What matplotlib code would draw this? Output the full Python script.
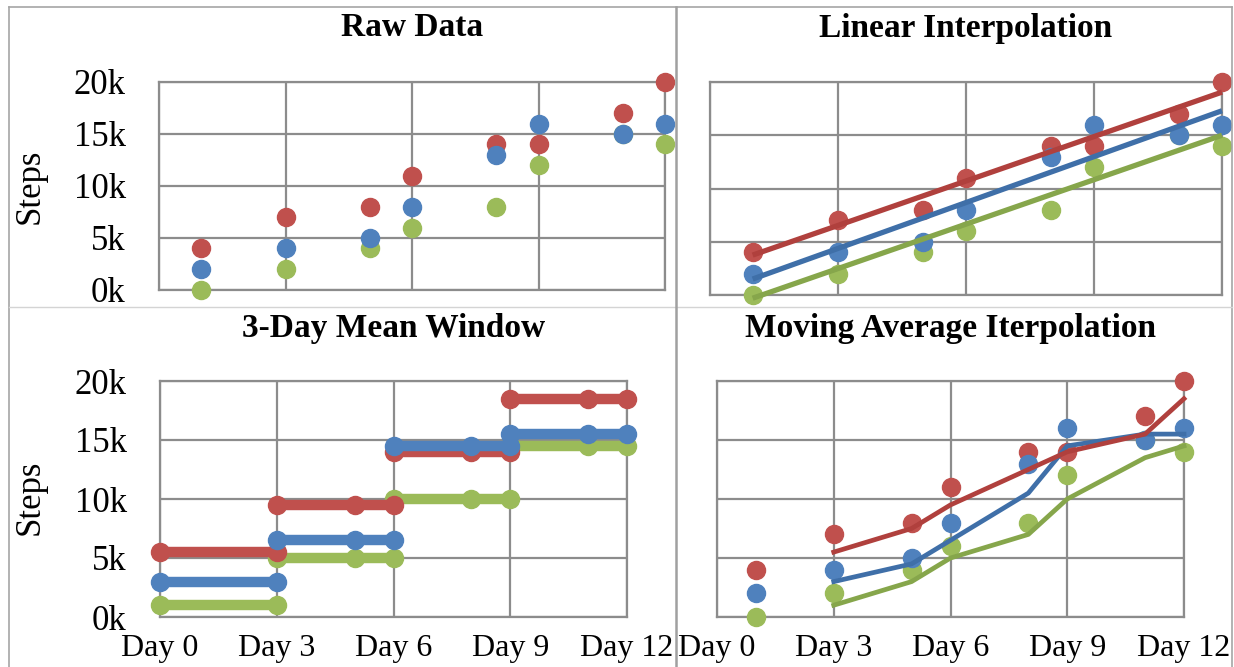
import matplotlib
matplotlib.use("Agg")
import matplotlib.pyplot as plt
from matplotlib.lines import Line2D

# ---- data -------------------------------------------------------------
days = [1, 3, 5, 6, 8, 9, 11, 12]
red_steps = [4000, 7000, 8000, 11000, 14000, 14000, 17000, 20000]
blue_steps = [2000, 4000, 5000, 8000, 13000, 16000, 15000, 16000]
green_steps = [0, 2000, 4000, 6000, 8000, 12000, 15000, 14000]

# fitted straight lines (start at day 1, end at day 12)
trend_days = [1, 12]
red_trend = [3750, 19050]
blue_trend = [1500, 17300]
green_trend = [-300, 15000]

# 3-day windows and their means
window_days = [[0, 3], [3, 5, 6], [6, 8, 9], [9, 11, 12]]
red_window = [5500, 9500, 14000, 18500]
blue_window = [3000, 6500, 14500, 15500]
green_window = [1000, 5000, 10000, 14500]

# two-point moving averages
ma_days = [3, 5, 6, 8, 9, 11, 12]
red_ma = [5500, 7500, 9500, 12500, 14000, 15500, 18500]
blue_ma = [3000, 4500, 6500, 10500, 14500, 15500, 15500]
green_ma = [1000, 3000, 5000, 7000, 10000, 13500, 14500]

x_ticks = [0, 3, 6, 9, 12]
x_labels = ["Day 0", "Day 3", "Day 6", "Day 9", "Day 12"]
y_ticks = [0, 5000, 10000, 15000, 20000]
y_labels = ["0k", "5k", "10k", "15k", "20k"]

titles = ["Raw Data", "Linear Interpolation", "3-Day Mean Window",
          "Moving Average Iterpolation"]

# ---- style ------------------------------------------------------------
RED, BLUE, GREEN = "#C0504D", "#4F81BD", "#9BBB59"
RED_D, BLUE_D, GREEN_D = "#B0403D", "#3F6FA8", "#86A64B"
GRID = "#8C8C8C"
SERIF = "Liberation Serif"

W, H = 1234, 667
fig = plt.figure(figsize=(W / 100, H / 100), dpi=100)
fig.patch.set_facecolor("white")


def px_axes(x0, y0, x1, y1):
    return fig.add_axes([x0 / W, 1 - y1 / H, (x1 - x0) / W, (y1 - y0) / H])


def style(ax, xlab, ylab):
    ax.set_xlim(0, 12)
    ax.set_ylim(0, 20000)
    ax.set_xticks(x_ticks)
    ax.set_yticks(y_ticks)
    ax.grid(True, color=GRID, linewidth=1.6)
    ax.set_axisbelow(True)
    for s in ax.spines.values():
        s.set_color(GRID)
        s.set_linewidth(1.6)
    ax.tick_params(length=0, pad=24 if ylab else 0)
    ax.tick_params(axis="x", pad=12)
    if xlab:
        ax.set_xticklabels(x_labels, fontsize=23, family=SERIF)
    else:
        ax.set_xticklabels([])
    if ylab:
        ax.set_yticklabels(y_labels, fontsize=25, family=SERIF)
    else:
        ax.set_yticklabels([])


ms = 13
series = [(green_steps, GREEN), (red_steps, RED), (blue_steps, BLUE)]

# Raw data
ax1 = px_axes(159, 82, 665, 290)
style(ax1, False, True)
for vals, c in series:
    ax1.plot(days, vals, "o", color=c, ms=ms, clip_on=False, zorder=3)

# Linear interpolation
ax2 = px_axes(710, 82, 1222, 295)
style(ax2, False, False)
for vals, c in series:
    ax2.plot(days, vals, "o", color=c, ms=ms, clip_on=False, zorder=3)
for tr, c in [(green_trend, GREEN_D), (blue_trend, BLUE_D), (red_trend, RED_D)]:
    ax2.plot(trend_days, tr, "-", color=c, lw=3.8, clip_on=False,
             solid_capstyle="butt", zorder=4)

# 3-day mean window
ax3 = px_axes(160, 381, 627, 617)
style(ax3, True, True)
for win, c in [(green_window, GREEN), (red_window, RED), (blue_window, BLUE)]:
    for d, v in zip(window_days, win):
        ax3.plot(d, [v] * len(d), "-o", color=c, ms=ms, lw=7.5,
                 clip_on=False, zorder=3)

# Moving average
ax4 = px_axes(717, 381, 1184, 617)
style(ax4, True, False)
for vals, c in series:
    ax4.plot(days, vals, "o", color=c, ms=ms, clip_on=False, zorder=3)
for ma, c in [(green_ma, GREEN_D), (blue_ma, BLUE_D), (red_ma, RED_D)]:
    ax4.plot(ma_days, ma, "-", color=c, lw=3.4, clip_on=False, zorder=4)

# titles
for ax, t, ty in [(ax1, titles[0], 28), (ax2, titles[1], 28),
                  (ax3, titles[2], 328), (ax4, titles[3], 328)]:
    b = ax.get_position()
    fig.text((b.x0 + b.x1) / 2, 1 - ty / H, t, ha="center", va="center",
             fontsize=24, fontweight="bold", family=SERIF)

# y-axis labels
for yc in (186, 497):
    fig.text(30 / W, 1 - yc / H, "Steps", rotation=90, ha="center",
             va="center", fontsize=25, family=SERIF)

# panel frames
def hline(y, x0, x1, color, lw):
    fig.add_artist(Line2D([x0 / W, x1 / W], [1 - y / H, 1 - y / H],
                          color=color, lw=lw, transform=fig.transFigure))


def vline(x, y0, y1, color, lw):
    fig.add_artist(Line2D([x / W, x / W], [1 - y0 / H, 1 - y1 / H],
                          color=color, lw=lw, transform=fig.transFigure))


hline(7, 9, 1232, "#A6A6A6", 1.2)
vline(9, 7, 667, "#A6A6A6", 1.2)
vline(1232, 7, 667, "#A6A6A6", 1.2)
hline(307, 9, 1232, "#D4D4D4", 1.0)
vline(676, 7, 667, "#A0A0A0", 1.8)

fig.savefig("out.png", dpi=100, facecolor="white")
